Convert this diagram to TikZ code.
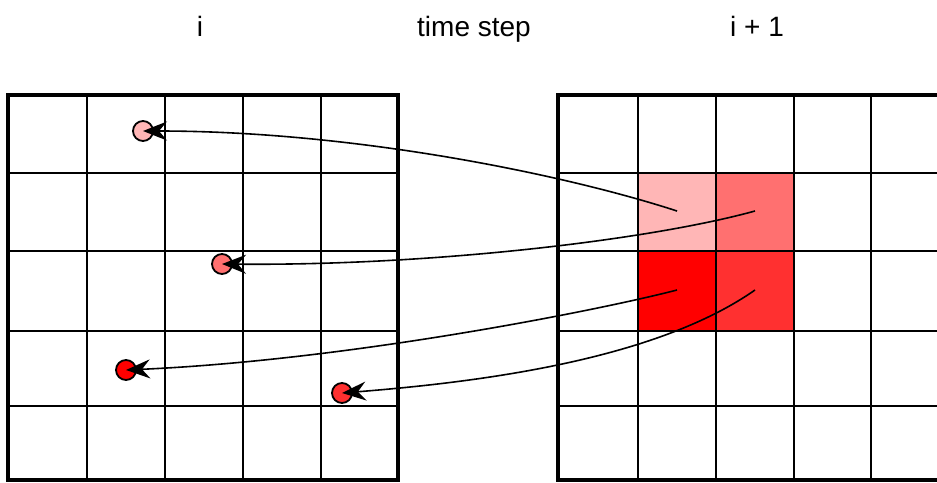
\documentclass[tikz,border=0pt]{standalone}
\usepackage{fontspec}
\setmainfont{Liberation Sans}
\usetikzlibrary{arrows.meta}
\definecolor{cA}{HTML}{FFB6B6}
\definecolor{cB}{HTML}{FF7070}
\definecolor{cC}{HTML}{FF0000}
\definecolor{cD}{HTML}{FF3030}
\tikzset{
  lbl/.style={font=\fontsize{28}{30}\selectfont, anchor=base},
  dot/.style={circle, draw=black, line width=1.8pt, minimum size=20pt, inner sep=0pt},
  flow/.style={line width=1.6pt, -{Stealth[length=24pt, width=19pt, inset=8pt]}},
  thin grid/.style={line width=2pt},
  thick grid/.style={line width=2.7pt},
  border/.style={line width=3.2pt}
}
\begin{document}
\begin{tikzpicture}[x=1pt,y=-1pt]
\clip (0,0) rectangle (937,482);
\fill[white] (0,0) rectangle (937,482);
% titles
\node[lbl] (ti) at (200,36) {i};
\node[lbl] (tt) at (474,36) {time step};
\node[lbl] (tn) at (757,36) {i + 1};
% left grid
\foreach \x in {87,165,243,321} \draw[thin grid] (\x,95) -- (\x,480);
\foreach \y in {173,251,331,406} \draw[thin grid] (8,\y) -- (398,\y);
\draw[border] (8,95) rectangle (398,480);
% right grid coloured cells
\fill[cA] (638,173) rectangle (716,251);
\fill[cB] (716,173) rectangle (794,251);
\fill[cC] (638,251) rectangle (716,331);
\fill[cD] (716,251) rectangle (794,331);
\foreach \x in {638,716,794,871} \draw[thick grid] (\x,95) -- (\x,480);
\foreach \y in {173,251,331,406} \draw[thick grid] (558,\y) -- (960,\y);
\draw[border] (960,95) -- (558,95) -- (558,480) -- (960,480);
% start points
\coordinate (s1) at (677,211);
\coordinate (s2) at (755,211);
\coordinate (s3) at (677,290);
\coordinate (s4) at (755,290);
% dots
\node[dot, fill=cA] (d1) at (143,131) {};
\node[dot, fill=cB] (d2) at (222,264) {};
\node[dot, fill=cC] (d3) at (126,370) {};
\node[dot, fill=cD] (d4) at (342,393) {};
% arrows
\draw[flow] (s1) .. controls (560,173) and (350,131) .. (d1.center);
\draw[flow] (s2) .. controls (650,240) and (430,266) .. (d2.center);
\draw[flow] (s3) .. controls (600,310) and (350,360) .. (d3.center);
\draw[flow] (s4) .. controls (655,360) and (480,382) .. (d4.center);
\end{tikzpicture}
\end{document}
